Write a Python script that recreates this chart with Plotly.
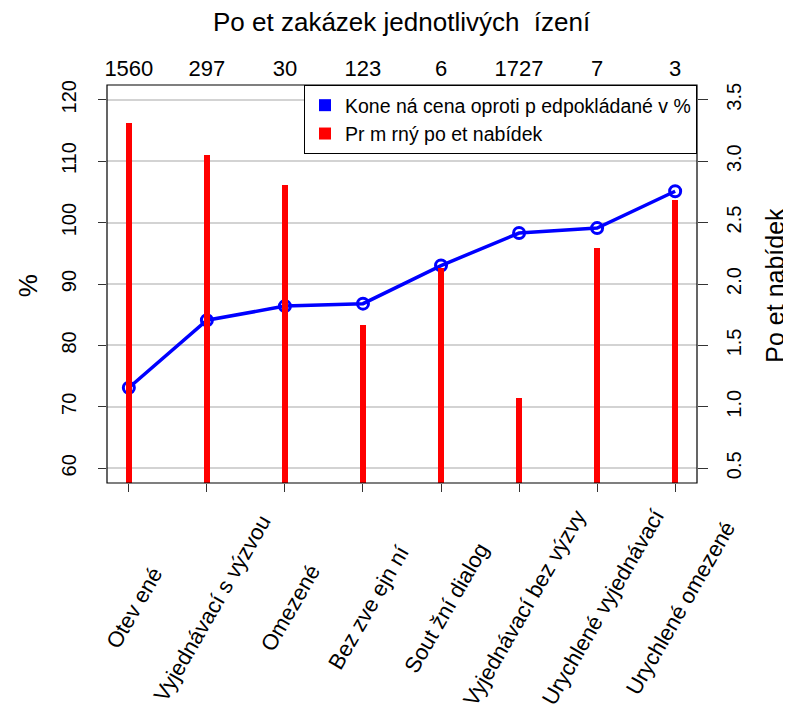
import plotly.graph_objects as go

categories = ["Otev ené", "Vyjednávací s výzvou", "Omezené", "Bez zve ejn ní",
              "Sout žní dialog", "Vyjednávací bez výzvy", "Urychlené vyjednávací",
              "Urychlené omezené"]
counts = [1560, 297, 30, 123, 6, 1727, 7, 3]
price_pct = [73.1, 84.1, 86.4, 86.8, 93.0, 98.3, 99.1, 105.1]
avg_offers = [3.31, 3.05, 2.81, 1.67, 2.13, 1.07, 2.29, 2.68]
left_ticks = [60, 70, 80, 90, 100, 110, 120]
right_ticks = [0.5, 1.0, 1.5, 2.0, 2.5, 3.0, 3.5]

xs = list(range(1, len(categories) + 1))
FONT = "Liberation Sans, Arial, sans-serif"

fig = go.Figure()
fig.add_trace(go.Bar(x=xs, y=avg_offers, base=0, width=0.075, marker=dict(color="#FF0000", line=dict(width=0)),
                     yaxis="y2", showlegend=False, hoverinfo="skip"))
fig.add_trace(go.Scatter(x=xs, y=price_pct, mode="lines+markers",
                         line=dict(color="#0000FF", width=3.5),
                         marker=dict(symbol="circle-open", size=11, color="#0000FF", line=dict(width=3)),
                         showlegend=False))
fig.add_trace(go.Scatter(x=xs, y=[None]*len(xs), xaxis="x2", showlegend=False, hoverinfo="skip"))
fig.add_trace(go.Scatter(x=[None], y=[None], mode="markers", name="Kone ná cena oproti p edpokládané v %",
                         marker=dict(symbol="square", size=9, color="#0000FF")))
fig.add_trace(go.Scatter(x=[None], y=[None], mode="markers", name="Pr m rný po et nabídek",
                         marker=dict(symbol="square", size=9, color="#FF0000")))

fig.update_layout(
    width=783, height=707,
    margin=dict(l=99, r=94, t=77, b=232, autoexpand=False),
    paper_bgcolor="white", plot_bgcolor="white",
    font=dict(family=FONT, size=20, color="black"),
    bargap=0,
    xaxis=dict(range=[0.72, 8.28], tickvals=xs, ticktext=[""]*len(xs), ticks="outside", ticklen=8,
               tickcolor="#333", showgrid=False, zeroline=False, showline=False, automargin=False),
    xaxis2=dict(range=[0.72, 8.28], overlaying="x", side="top", tickvals=xs,
                ticktext=[str(c) for c in counts], ticks="", showgrid=False, zeroline=False,
                showline=False, tickfont=dict(size=22), ticklabelstandoff=4, automargin=False),
    yaxis=dict(range=[57.6, 122.4], tickvals=left_ticks, ticks="outside", ticklen=8, tickcolor="#333",
               tickangle=-90, showgrid=True, gridcolor="#d3d3d3", gridwidth=1.5, zeroline=False,
               showline=False, ticklabelstandoff=14, tickfont=dict(size=20), automargin=False),
    yaxis2=dict(range=[0.38, 3.62], tickvals=right_ticks, ticktext=[f"{v:.1f}" for v in right_ticks],
                overlaying="y", side="right", ticks="outside", ticklen=10, tickcolor="#333", tickangle=-90,
                showgrid=False, zeroline=False, showline=False, ticklabelstandoff=9,
                tickfont=dict(size=20), automargin=False),
    legend=dict(x=1, y=1, xanchor="right", yanchor="top", bgcolor="white", bordercolor="black",
                borderwidth=1, font=dict(size=19.5), itemsizing="constant", tracegroupgap=0),
    shapes=[dict(type="rect", xref="paper", yref="paper", x0=0, y0=0, x1=1, y1=1,
                 line=dict(color="black", width=1.2), layer="above")],
)

ann = []
for x, lab in zip(xs, categories):
    ann.append(dict(x=x, y=-0.314, xref="x", yref="paper", text=lab, textangle=-60, showarrow=False,
                    xanchor="center", yanchor="middle", xshift=6, font=dict(size=22)))
ann.append(dict(x=0.5, y=1.158, xref="paper", yref="paper", text="Po et zakázek jednotlivých\u00a0\u00a0ízení",
                showarrow=False, xanchor="center", yanchor="middle", font=dict(size=26)))
ann.append(dict(x=-0.134, y=0.497, xref="paper", yref="paper", text="%", textangle=-90, showarrow=False,
                xanchor="center", yanchor="middle", font=dict(size=26)))
ann.append(dict(x=1.133, y=0.497, xref="paper", yref="paper", text="Po et nabídek", textangle=-90,
                showarrow=False, xanchor="center", yanchor="middle", font=dict(size=25)))
fig.update_layout(annotations=ann)

fig.write_html("out.html")
